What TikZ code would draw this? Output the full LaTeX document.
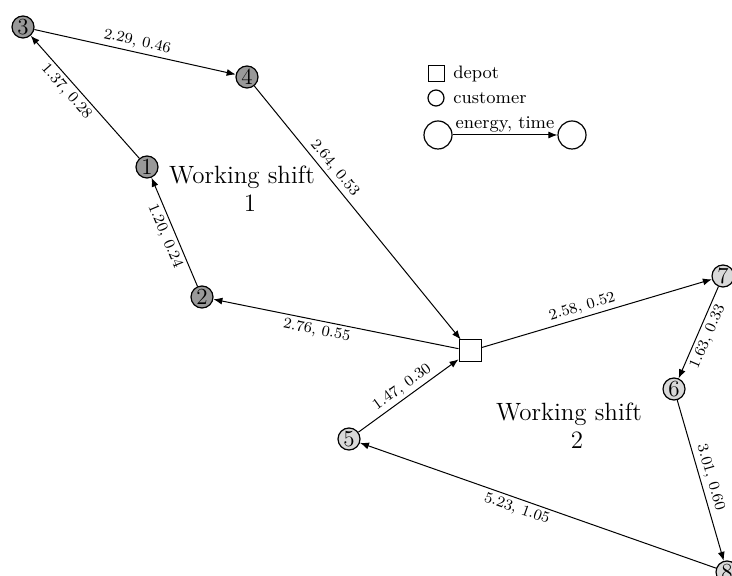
\documentclass[tikz,border=0pt]{standalone}
\usetikzlibrary{arrows.meta}
\begin{document}
\begin{tikzpicture}[x=0.5pt,y=-0.5pt,
  cust/.style={circle, draw, line width=0.6pt, minimum size=11pt, inner sep=0pt, font=\fontsize{11.5}{12}\selectfont},
  dark/.style={cust, fill=black!40},
  light/.style={cust, fill=black!15},
  depotbox/.style={rectangle, draw, line width=0.5pt, minimum size=11pt, inner sep=0pt},
  edge/.style={-{Latex[length=4.5pt,width=3.5pt]}, line width=0.5pt},
  lbl/.style={font=\fontsize{7.7}{9}\selectfont, inner sep=1.6pt},
  legtext/.style={font=\fontsize{9}{11}\selectfont, inner sep=1pt},
  shiftlabel/.style={font=\fontsize{12.5}{14}\selectfont, align=center}]
\useasboundingbox (0,0) rectangle (732,576);
% nodes
\node[dark] (n1) at (147,167) {1};
\node[dark] (n2) at (202,297) {2};
\node[dark] (n3) at (23,27) {3};
\node[dark] (n4) at (247,77) {4};
\node[depotbox] (d) at (470,351) {};
\node[light] (n5) at (349,439) {5};
\node[light] (n6) at (674,389) {6};
\node[light] (n7) at (723,276) {7};
\node[light] (n8) at (727,572) {8};
% edges shift 1
\draw[edge] (n1) -- node[lbl, sloped, below, pos=0.6] {1.37, 0.28} (n3);
\draw[edge] (n3) -- node[lbl, sloped, above, midway] {2.29, 0.46} (n4);
\draw[edge] (n4) -- node[lbl, sloped, above, pos=0.35] {2.64, 0.53} (d);
\draw[edge] (d) -- node[lbl, sloped, below, pos=0.57] {2.76, 0.55} (n2);
\draw[edge] (n2) -- node[lbl, sloped, below, midway] {1.20, 0.24} (n1);
% edges shift 2
\draw[edge] (d) -- node[lbl, sloped, above, pos=0.45] {2.58, 0.52} (n7);
\draw[edge] (n7) -- node[lbl, sloped, below, midway] {1.63, 0.33} (n6);
\draw[edge] (n6) -- node[lbl, sloped, above, midway] {3.01, 0.60} (n8);
\draw[edge] (n8) -- node[lbl, sloped, below, pos=0.55] {5.23, 1.05} (n5);
\draw[edge] (n5) -- node[lbl, sloped, above, midway] {1.47, 0.30} (d);
% shift labels
\node[shiftlabel] (s1) at (242,189) {Working shift\\\hspace*{8pt}1};
\node[shiftlabel] (s2) at (569,426) {Working shift\\\hspace*{8pt}2};
% legend
\node[depotbox, minimum size=8pt] (ld) at (436,74) {};
\node[legtext, anchor=west] (ldt) at (451,74) {depot};
\node[circle, draw, line width=0.6pt, minimum size=8pt, inner sep=0pt] (lc) at (436,98) {};
\node[legtext, anchor=west] (lct) at (451,98) {customer};
\node[circle, draw, line width=0.6pt, minimum size=14pt, inner sep=0pt] (la) at (438,135) {};
\node[circle, draw, line width=0.6pt, minimum size=14pt, inner sep=0pt] (lb) at (572,135) {};
\draw[edge] (la) -- node[legtext, above, midway] {energy, time} (lb);
\end{tikzpicture}
\end{document}
